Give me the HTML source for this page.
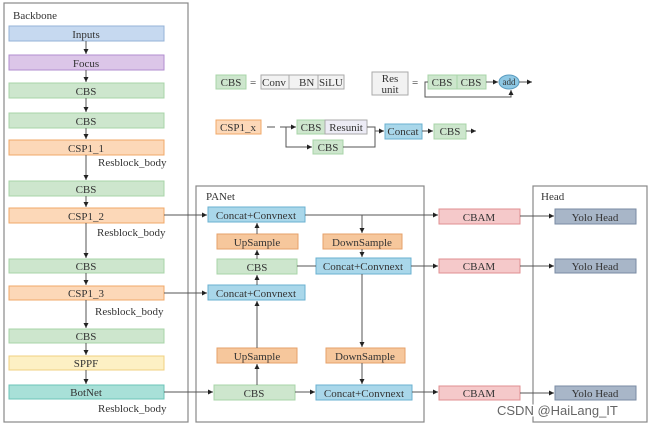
<!DOCTYPE html>
<html><head><meta charset="utf-8"><style>
html,body{margin:0;padding:0;background:#fff;width:651px;height:427px;overflow:hidden}
svg{display:block}
text{font-family:"Liberation Serif",serif;font-size:11px;fill:#333}
</style></head><body>
<svg width="651" height="427" viewBox="0 0 651 427" xmlns="http://www.w3.org/2000/svg">
<defs><marker id="a" markerWidth="6" markerHeight="6" refX="5" refY="3" orient="auto"><path d="M0,0.5 L5,3 L0,5.5z" fill="#222"/></marker></defs>
<g fill="none" stroke="#888" stroke-width="1.2">
<rect x="4" y="3" width="184" height="419"/>
<rect x="196" y="186" width="228" height="236"/>
<rect x="533" y="186" width="114" height="236"/>
</g>
<text x="13" y="19">Backbone</text>
<text x="206" y="200">PANet</text>
<text x="541" y="200">Head</text>
<!-- backbone boxes -->
<g stroke-width="1">
<rect x="9" y="26" width="155" height="15" fill="#c6d9f0" stroke="#95b3d7"/>
<rect x="9" y="55" width="155" height="15" fill="#dcc6e8" stroke="#b28ecf"/>
<rect x="9" y="83" width="155" height="15" fill="#cde6cd" stroke="#a8d4a8"/>
<rect x="9" y="113" width="155" height="15" fill="#cde6cd" stroke="#a8d4a8"/>
<rect x="9" y="140" width="155" height="15" fill="#fcd8b8" stroke="#f0a868"/>
<rect x="9" y="181" width="155" height="15" fill="#cde6cd" stroke="#a8d4a8"/>
<rect x="9" y="208" width="155" height="15" fill="#fcd8b8" stroke="#f0a868"/>
<rect x="9" y="259" width="155" height="14" fill="#cde6cd" stroke="#a8d4a8"/>
<rect x="9" y="286" width="155" height="14" fill="#fcd8b8" stroke="#f0a868"/>
<rect x="9" y="329" width="155" height="14" fill="#cde6cd" stroke="#a8d4a8"/>
<rect x="9" y="356" width="155" height="14" fill="#fdf0c4" stroke="#f0d080"/>
<rect x="9" y="385" width="155" height="14" fill="#a8e0d8" stroke="#6cc4b8"/>
</g>
<g text-anchor="middle">
<text x="86" y="38">Inputs</text><text x="86" y="67">Focus</text>
<text x="86" y="95">CBS</text><text x="86" y="125">CBS</text>
<text x="86" y="152">CSP1_1</text><text x="86" y="193">CBS</text>
<text x="86" y="220">CSP1_2</text><text x="86" y="270">CBS</text>
<text x="86" y="297">CSP1_3</text><text x="86" y="340">CBS</text>
<text x="86" y="367">SPPF</text><text x="86" y="396">BotNet</text>
</g>
<text x="98" y="166">Resblock_body</text>
<text x="97" y="236">Resblock_body</text>
<text x="95" y="315">Resblock_body</text>
<text x="98" y="412">Resblock_body</text>
<g stroke="#555" stroke-width="1" marker-end="url(#a)">
<line x1="86" y1="41" x2="86" y2="54"/><line x1="86" y1="70" x2="86" y2="82"/>
<line x1="86" y1="98" x2="86" y2="112"/><line x1="86" y1="128" x2="86" y2="139"/>
<line x1="86" y1="155" x2="86" y2="180"/><line x1="86" y1="196" x2="86" y2="207"/>
<line x1="86" y1="223" x2="86" y2="258"/><line x1="86" y1="273" x2="86" y2="285"/>
<line x1="86" y1="300" x2="86" y2="328"/><line x1="86" y1="343" x2="86" y2="355"/>
<line x1="86" y1="370" x2="86" y2="384"/>
</g>
<!-- PANet boxes -->
<g stroke-width="1">
<rect x="208" y="207" width="97" height="15" fill="#a9d7ea" stroke="#6ab0d0"/>
<rect x="217" y="234" width="81" height="15" fill="#f6c79c" stroke="#e6a06a"/>
<rect x="217" y="259" width="80" height="15" fill="#cde6cd" stroke="#a8d4a8"/>
<rect x="208" y="285" width="97" height="15" fill="#a9d7ea" stroke="#6ab0d0"/>
<rect x="217" y="348" width="80" height="15" fill="#f6c79c" stroke="#e6a06a"/>
<rect x="214" y="385" width="81" height="15" fill="#cde6cd" stroke="#a8d4a8"/>
<rect x="323" y="234" width="79" height="15" fill="#f6c79c" stroke="#e6a06a"/>
<rect x="316" y="258" width="95" height="16" fill="#a9d7ea" stroke="#6ab0d0"/>
<rect x="326" y="348" width="79" height="15" fill="#f6c79c" stroke="#e6a06a"/>
<rect x="316" y="385" width="96" height="15" fill="#a9d7ea" stroke="#6ab0d0"/>
<rect x="439" y="209" width="81" height="15" fill="#f5c9ca" stroke="#e08f91"/>
<rect x="439" y="259" width="81" height="14" fill="#f5c9ca" stroke="#e08f91"/>
<rect x="439" y="386" width="81" height="14" fill="#f5c9ca" stroke="#e08f91"/>
<rect x="555" y="209" width="81" height="15" fill="#a8b6c8" stroke="#7a8ba3"/>
<rect x="555" y="259" width="81" height="14" fill="#a8b6c8" stroke="#7a8ba3"/>
<rect x="555" y="386" width="81" height="14" fill="#a8b6c8" stroke="#7a8ba3"/>
</g>
<g text-anchor="middle">
<text x="256" y="219">Concat+Convnext</text><text x="257" y="246">UpSample</text>
<text x="257" y="271">CBS</text><text x="256" y="297">Concat+Convnext</text>
<text x="257" y="360">UpSample</text><text x="254" y="397">CBS</text>
<text x="362" y="246">DownSample</text><text x="363" y="270">Concat+Convnext</text>
<text x="365" y="360">DownSample</text><text x="364" y="397">Concat+Convnext</text>
<text x="479" y="221">CBAM</text><text x="479" y="270">CBAM</text><text x="479" y="397">CBAM</text>
<text x="595" y="221">Yolo Head</text><text x="595" y="270">Yolo Head</text><text x="595" y="397">Yolo Head</text>
</g>
<g stroke="#555" stroke-width="1" fill="none">
<line x1="164" y1="215" x2="207" y2="215" marker-end="url(#a)"/>
<line x1="164" y1="293" x2="207" y2="293" marker-end="url(#a)"/>
<line x1="164" y1="392" x2="213" y2="392" marker-end="url(#a)"/>
<line x1="257" y1="234" x2="257" y2="223" marker-end="url(#a)"/>
<line x1="257" y1="259" x2="257" y2="250" marker-end="url(#a)"/>
<line x1="257" y1="285" x2="257" y2="275" marker-end="url(#a)"/>
<line x1="257" y1="348" x2="257" y2="301" marker-end="url(#a)"/>
<line x1="257" y1="385" x2="257" y2="364" marker-end="url(#a)"/>
<line x1="297" y1="266" x2="316" y2="266"/>
<line x1="295" y1="392" x2="315" y2="392" marker-end="url(#a)"/>
<line x1="305" y1="215" x2="438" y2="215" marker-end="url(#a)"/>
<line x1="362" y1="215" x2="362" y2="233" marker-end="url(#a)"/>
<line x1="362" y1="249" x2="362" y2="257" marker-end="url(#a)"/>
<line x1="362" y1="274" x2="362" y2="347" marker-end="url(#a)"/>
<line x1="362" y1="363" x2="362" y2="384" marker-end="url(#a)"/>
<line x1="411" y1="266" x2="438" y2="266" marker-end="url(#a)"/>
<line x1="412" y1="392" x2="438" y2="392" marker-end="url(#a)"/>
<line x1="520" y1="216" x2="554" y2="216" marker-end="url(#a)"/>
<line x1="520" y1="266" x2="554" y2="266" marker-end="url(#a)"/>
<line x1="520" y1="393" x2="554" y2="393" marker-end="url(#a)"/>
</g>
<!-- legend -->
<rect x="216" y="75" width="30" height="14" fill="#cde6cd" stroke="#a8d4a8"/>
<text x="231" y="86" text-anchor="middle">CBS</text>
<text x="250" y="86">=</text>
<rect x="261" y="75" width="83" height="14" fill="#f2f2f2" stroke="#aaa"/>
<line x1="289" y1="75" x2="289" y2="89" stroke="#aaa"/><line x1="318" y1="75" x2="318" y2="89" stroke="#aaa"/>
<text x="262" y="86">Conv</text><text x="299" y="86">BN</text><text x="319" y="86">SiLU</text>
<rect x="372" y="72" width="36" height="23" fill="#f2f2f2" stroke="#aaa"/>
<text x="390" y="82" text-anchor="middle">Res</text><text x="390" y="93" text-anchor="middle">unit</text>
<text x="412" y="86">=</text>
<rect x="428" y="75" width="29" height="14" fill="#cde6cd" stroke="#a8d4a8"/>
<rect x="457" y="75" width="29" height="14" fill="#cde6cd" stroke="#a8d4a8"/>
<text x="442" y="86" text-anchor="middle">CBS</text><text x="471" y="86" text-anchor="middle">CBS</text>
<ellipse cx="509" cy="82" rx="10" ry="7" fill="#8ec8e4" stroke="#5a9cc0"/>
<text x="509" y="85" text-anchor="middle" style="font-size:9px">add</text>
<g stroke="#555" stroke-width="1" fill="none">
<polyline points="428,82 425,82 425,97 511,97 511,90" marker-end="url(#a)"/>
<line x1="486" y1="82" x2="498" y2="82" marker-end="url(#a)"/>
<line x1="519" y1="82" x2="532" y2="82" marker-end="url(#a)"/>
</g>
<rect x="216" y="120" width="45" height="14" fill="#fcd8b8" stroke="#f0a868"/>
<text x="238" y="131" text-anchor="middle">CSP1_x</text>
<line x1="267" y1="127" x2="275" y2="127" stroke="#555"/>
<rect x="297" y="120" width="28" height="14" fill="#cde6cd" stroke="#a8d4a8"/>
<rect x="325" y="120" width="42" height="14" fill="#ecebf5" stroke="#aaa"/>
<text x="311" y="131" text-anchor="middle">CBS</text><text x="346" y="131" text-anchor="middle">Resunit</text>
<rect x="313" y="140" width="30" height="14" fill="#cde6cd" stroke="#a8d4a8"/>
<text x="328" y="151" text-anchor="middle">CBS</text>
<rect x="385" y="124" width="37" height="15" fill="#a9d7ea" stroke="#6ab0d0"/>
<text x="403" y="135" text-anchor="middle">Concat</text>
<rect x="434" y="124" width="32" height="15" fill="#cde6cd" stroke="#a8d4a8"/>
<text x="450" y="135" text-anchor="middle">CBS</text>
<g stroke="#555" stroke-width="1" fill="none">
<polyline points="280,127 286,127 286,127 296,127" marker-end="url(#a)"/>
<polyline points="286,127 286,147 312,147" marker-end="url(#a)"/>
<polyline points="367,127 375,127 375,147 343,147"/>
<line x1="375" y1="131" x2="384" y2="131" marker-end="url(#a)"/>
<line x1="422" y1="131" x2="433" y2="131" marker-end="url(#a)"/>
<line x1="466" y1="131" x2="476" y2="131" marker-end="url(#a)"/>
</g>
<text x="497" y="415" style="font-family:'Liberation Sans',sans-serif;font-size:13px;fill:#fff;stroke:#fff;stroke-width:3">CSDN @HaiLang_IT</text>
<text x="497" y="415" style="font-family:'Liberation Sans',sans-serif;font-size:13px;fill:#666">CSDN @HaiLang_IT</text>
</svg>
</body></html>
